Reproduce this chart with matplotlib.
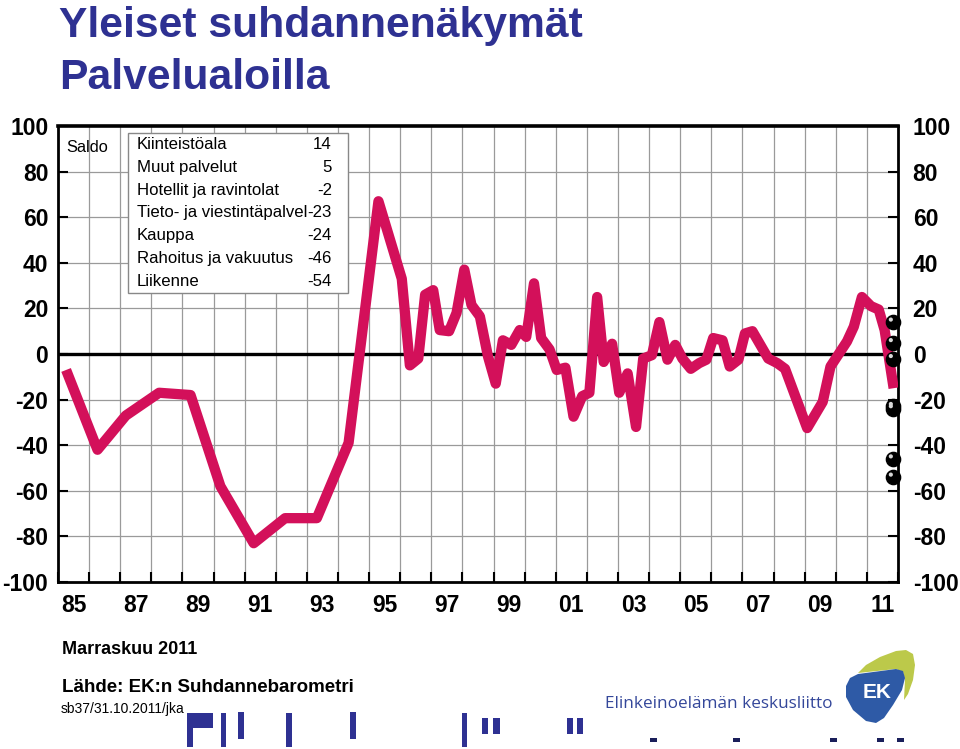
import matplotlib.pyplot as plt
from matplotlib.patches import Rectangle, Polygon
from matplotlib import transforms

plt.rcParams['font.family'] = ['Liberation Sans', 'DejaVu Sans']

# Saldo series: time (year + fraction) and balance values
t = [1985.26, 1986.27, 1987.18, 1988.25, 1989.26, 1990.22, 1991.29, 1992.30,
     1993.32, 1994.34, 1995.30, 1996.05, 1996.31, 1996.58, 1996.80, 1997.06,
     1997.27, 1997.57, 1997.81, 1998.06, 1998.29, 1998.56, 1998.82, 1999.07,
     1999.30, 1999.57, 1999.84, 2000.05, 2000.30, 2000.53, 2000.80, 2001.03,
     2001.31, 2001.57, 2001.85, 2002.08, 2002.33, 2002.54, 2002.81, 2003.04,
     2003.31, 2003.58, 2003.81, 2004.09, 2004.33, 2004.59, 2004.84, 2005.07,
     2005.34, 2005.61, 2005.84, 2006.06, 2006.36, 2006.59, 2006.87, 2007.08,
     2007.32, 2007.83, 2008.12, 2008.37, 2009.08, 2009.58, 2009.83, 2010.36,
     2010.58, 2010.84, 2011.13, 2011.38, 2011.57, 2011.86]
saldo = [-7, -42, -27, -17, -18, -58, -83, -72,
         -72, -39, 67, 33, -5, -2, 26, 28,
         10.5, 10, 18, 37, 21.5, 16.5, -1, -13,
         6, 4, 10.5, 7.5, 31, 7, 2, -7,
         -6, -27.5, -18.5, -17, 25, -3.5, 4.5, -17,
         -8.5, -32, -2, -0.5, 14, -2.5, 4, -2,
         -6.5, -4, -2.5, 7, 6, -5.5, -2.5, 9,
         10, -2, -4, -6.5, -32.5, -21, -5.5, 5.5,
         12, 25, 21, 19.5, 10.5, -15]

# latest values by sector
sectors = ['Kiinteistöala', 'Muut palvelut', 'Hotellit ja ravintolat',
           'Tieto- ja viestintäpalvel', 'Kauppa', 'Rahoitus ja vakuutus',
           'Liikenne']
latest = [14, 5, -2, -23, -24, -46, -54]
latest_t = 2011.85

year_labels = ['85', '87', '89', '91', '93', '95', '97', '99',
               '01', '03', '05', '07', '09', '11']
y_ticks = list(range(-100, 101, 20))

W, H = 960, 749
def fx(px):
    return px / W
def fy(py):
    return 1 - py / H

fig = plt.figure(figsize=(9.6, 7.49), dpi=100)
ax = fig.add_axes([fx(58), fy(582), fx(898) - fx(58), fy(126) - fy(582)])

ax.set_xlim(1985, 2012)
ax.set_ylim(-100, 100)

# grid
for yr in range(1986, 2012):
    ax.axvline(yr, color='#9a9a9a', lw=0.9, zorder=1)
for v in y_ticks[1:-1]:
    ax.axhline(v, color='#9a9a9a', lw=0.9, zorder=1)
ax.axhline(0, color='black', lw=2.4, zorder=2)

ax.plot(t, saldo, color='#D3105A', lw=7.4, solid_capstyle='butt',
        solid_joinstyle='round', zorder=3)

# sector dots (black spheres)
ax.scatter([latest_t] * len(latest), latest, s=105, color='black',
           zorder=5, clip_on=False)
hl = transforms.offset_copy(ax.transData, fig=fig, x=-2.5, y=2.5, units='dots')
ax.scatter([latest_t] * len(latest), latest, s=9, color='#d8d8d8',
           transform=hl, zorder=6, clip_on=False, edgecolors='none')

for s in ax.spines.values():
    s.set_linewidth(2)
ax.spines['top'].set_linewidth(2.6)

ax.set_xticks(range(1985, 2013))
ax.set_xticklabels([])
ax.set_xticks([1985.5 + 2 * i for i in range(len(year_labels))], minor=True)
ax.set_xticklabels(year_labels, minor=True, fontweight='bold')
ax.tick_params(axis='x', which='major', direction='in', length=7, width=1.5)
ax.tick_params(axis='x', which='minor', length=0, pad=9, labelsize=16.5)

ax.set_yticks(y_ticks)
ax.set_yticklabels([str(v) for v in y_ticks], fontweight='bold')
ax.tick_params(axis='y', direction='in', length=7, width=1.5, labelsize=16.5,
               right=True, labelright=True, pad=7)
shift = transforms.ScaledTranslation(5 / 100, 0, fig.dpi_scale_trans)
for tk in ax.yaxis.get_major_ticks():
    tk.label2.set_fontweight('bold')
    tk.label2.set_transform(tk.label2.get_transform() + shift)

ax.text(0.0098, 0.952, 'Saldo', transform=ax.transAxes, fontsize=11.8,
        va='center', ha='left')

# legend box
fig.add_artist(Rectangle((fx(128), fy(293)), fx(348) - fx(128),
                         fy(133) - fy(293), transform=fig.transFigure,
                         facecolor='white', edgecolor='#888888', lw=1,
                         zorder=5))
for i, (name, val) in enumerate(zip(sectors, latest)):
    yy = fy(144.5 + i * 22.8)
    fig.text(fx(137), yy, name, fontsize=12.1, va='center', ha='left', zorder=6)
    fig.text(fx(332), yy, str(val), fontsize=12.1, va='center', ha='right',
             zorder=6)

# title
navy = '#2E3192'
fig.text(fx(59), fy(37), 'Yleiset suhdannenäkymät', fontsize=30.7,
         fontweight='bold', color=navy, va='baseline')
fig.text(fx(59), fy(89), 'Palvelualoilla', fontsize=30.7,
         fontweight='bold', color=navy, va='baseline')

# footer
fig.text(fx(62), fy(654), 'Marraskuu 2011', fontsize=13, fontweight='bold',
         va='baseline')
fig.text(fx(62), fy(692), 'Lähde: EK:n Suhdannebarometri', fontsize=13.5,
         fontweight='bold', va='baseline')
fig.text(fx(61), fy(713), 'sb37/31.10.2011/jka', fontsize=10, va='baseline')

# leftover footer fragments
bars = [(187, 713, 193, 747), (187, 713, 213, 728), (221, 713, 226, 747),
        (238, 712, 244, 739), (286, 713, 292, 747), (350, 712, 356, 739),
        (462, 713, 467, 747), (482, 718, 488, 734), (493, 718, 500, 734),
        (567, 718, 573, 734), (577, 718, 583, 734)]
for x0, y0, x1, y1 in bars:
    fig.add_artist(Rectangle((fx(x0), fy(y1)), fx(x1) - fx(x0),
                             fy(y0) - fy(y1), transform=fig.transFigure,
                             facecolor=navy, edgecolor='none'))
for x0 in [650, 733, 830, 877, 897]:
    fig.add_artist(Rectangle((fx(x0), fy(742)), fx(7), fy(738) - fy(742),
                             transform=fig.transFigure, facecolor='#1a1f5a',
                             edgecolor='none'))

# EK logo
fig.text(fx(605), fy(708), 'Elinkeinoelämän keskusliitto', fontsize=12.3,
         color='#34479A', va='baseline', family='Open Sans')
green = [(858, 673), (866, 665), (880, 657), (896, 651), (906, 650),
         (913, 654), (915, 665), (913, 680), (908, 694), (904, 700),
         (905, 680), (903, 672), (896, 669)]
blue = [(846, 686), (850, 678), (858, 674), (896, 669), (903, 671),
        (905, 678), (902, 690), (893, 705), (884, 718), (876, 723),
        (866, 721), (853, 710), (846, 697)]
fig.add_artist(Polygon([(fx(a), fy(b)) for a, b in green], closed=True,
                       transform=fig.transFigure, facecolor='#BCC94A',
                       edgecolor='none'))
fig.add_artist(Polygon([(fx(a), fy(b)) for a, b in blue], closed=True,
                       transform=fig.transFigure, facecolor='#2E5AA6',
                       edgecolor='none'))
fig.text(fx(877), fy(692), 'EK', fontsize=15, fontweight='bold',
         color='white', va='center', ha='center')

fig.savefig('out.png', dpi=100)
